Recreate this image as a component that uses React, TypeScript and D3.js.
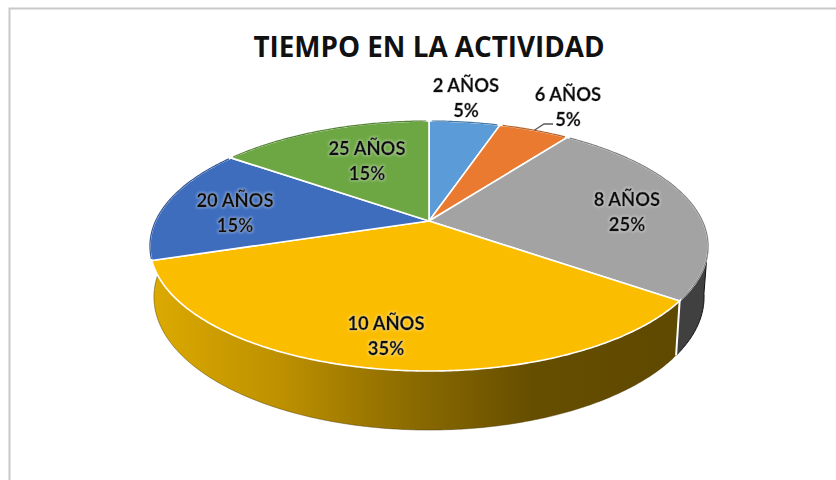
import React from "react";
import * as d3 from "d3";

const categories = ["2 AÑOS", "6 AÑOS", "8 AÑOS", "10 AÑOS", "20 AÑOS", "25 AÑOS"];
const shares = [5, 5, 25, 35, 15, 15];
const colors = ["#5a9bd8", "#e97a30", "#a3a3a3", "#fbbd00", "#3e6dbe", "#6ca743"];
const labelCentres: [number, number][] = [[466, 86], [568, 95], [627, 200], [386, 324], [235, 201], [367, 149]];
const title = "TIEMPO EN LA ACTIVIDAD";

const top = { cx: 429, cy: 221, a: 273.4, b: 120, k: 0.2 };
const bottom = { cx: 429, cy: 270.4, a: 269.5, b: 127.7, k: 0.2 };
type Disc = typeof top;

const project = (d: Disc, t: number): [number, number] => {
  const u = Math.sin(t), v = Math.cos(t), w = 1 + d.k * v;
  return [d.cx + (d.a * u) / w, d.cy - (d.b * v) / w];
};
const rim = (d: Disc, from: number, to: number) => {
  const n = Math.max(2, Math.ceil(Math.abs(to - from) / 0.01));
  return d3.range(n + 1).map((i) => project(d, from + ((to - from) * i) / n));
};
const line = d3.line();
const rad = (deg: number) => (deg * Math.PI) / 180;

export default function App() {
  const arcs = d3.pie<number>().sort(null)(shares);
  const yellow = arcs[3];
  const gray = arcs[2];
  const wallStart = rad(100);
  const wallEnd = rad(268);
  const grayWall = [...rim(top, wallStart, gray.endAngle), ...rim(bottom, gray.endAngle, wallStart)];
  const yellowWall = [...rim(top, yellow.startAngle, wallEnd), ...rim(bottom, wallEnd, yellow.startAngle)];
  const x = d3.scaleLinear().domain([0, 1]).range([150, 680]);
  const stops: [number, string][] = [[0, "#dcaa00"], [0.25, "#bd9000"], [0.5, "#8a6a00"], [0.72, "#664e00"], [1, "#5f4900"]];
  return (
    <svg width={836} height={480} style={{ position: "fixed", left: 0, top: 0, background: "#fff" }}>
      <defs>
        <linearGradient id="wall" gradientUnits="userSpaceOnUse" x1={x(0)} x2={x(1)} y1={0} y2={0}>
          {stops.map(([o, c]) => <stop key={o} offset={o} stopColor={c} />)}
        </linearGradient>
        <filter id="soft" x="-5%" y="-5%" width="110%" height="110%"><feGaussianBlur stdDeviation="0.6" /></filter>
        <filter id="glow" x="-20%" y="-30%" width="140%" height="160%">
          <feMorphology in="SourceAlpha" operator="dilate" radius="1" result="d" />
          <feGaussianBlur in="d" stdDeviation="1" result="b" />
          <feFlood floodColor="#ffffff" floodOpacity="0.3" />
          <feComposite in2="b" operator="in" result="g" />
          <feMerge><feMergeNode in="g" /><feMergeNode in="SourceGraphic" /></feMerge>
        </filter>
      </defs>
      <path d="M836 8.5H9.5V480" fill="none" stroke="#c9c9c9" strokeWidth={2} />
      <text x={429} y={57} textAnchor="middle" fontFamily="'Open Sans', sans-serif" fontWeight={700} fontSize={27.8} fill="#111">{title}</text>

      <path d={line(grayWall)! + "Z"} fill="#404040" stroke="#111" strokeWidth={1} />
      <path d={line(yellowWall)! + "Z"} fill="url(#wall)" />
      <path d={line(rim(bottom, rad(127), wallEnd))!} fill="none" stroke="#4a3800" strokeWidth={0.8} opacity={0.6} filter="url(#soft)" />
      <path d={line([project(top, gray.endAngle), project(bottom, gray.endAngle)])!} stroke="#fff" strokeWidth={2} fill="none" />

      {arcs.map((a, i) => (
        <path
          key={categories[i]}
          d={line([[top.cx, top.cy], ...rim(top, a.startAngle, a.endAngle)])! + "Z"}
          fill={colors[i]}
          stroke="#fff"
          strokeWidth={1.6}
          strokeLinejoin="round"
        />
      ))}
      {arcs.map((a, i) => i === 3 ? null : (
        <path
          key={categories[i]}
          d={line(rim(top, a.startAngle + 0.012, a.endAngle - 0.012))!}
          fill="none"
          stroke={d3.color(colors[i])!.darker(0.7).formatHex()}
          strokeWidth={1.2}
        />
      ))}

      <path d={line([project(top, rad(27)), [544, 124], [553, 124]])!} fill="none" stroke="#595959" strokeWidth={1.3} />

      <g fontFamily="Lato, Carlito, sans-serif" fontWeight={700} fontSize={18.4} fill="#111" stroke="#111" strokeWidth={0.35} textAnchor="middle" filter="url(#glow)">
        {arcs.map((a, i) => (
          <g key={categories[i]}>
            <text x={labelCentres[i][0]} y={labelCentres[i][1] + 6}>{categories[i]}</text>
            <text x={labelCentres[i][0]} y={labelCentres[i][1] + 31}>{shares[i]}%</text>
          </g>
        ))}
      </g>
    </svg>
  );
}
